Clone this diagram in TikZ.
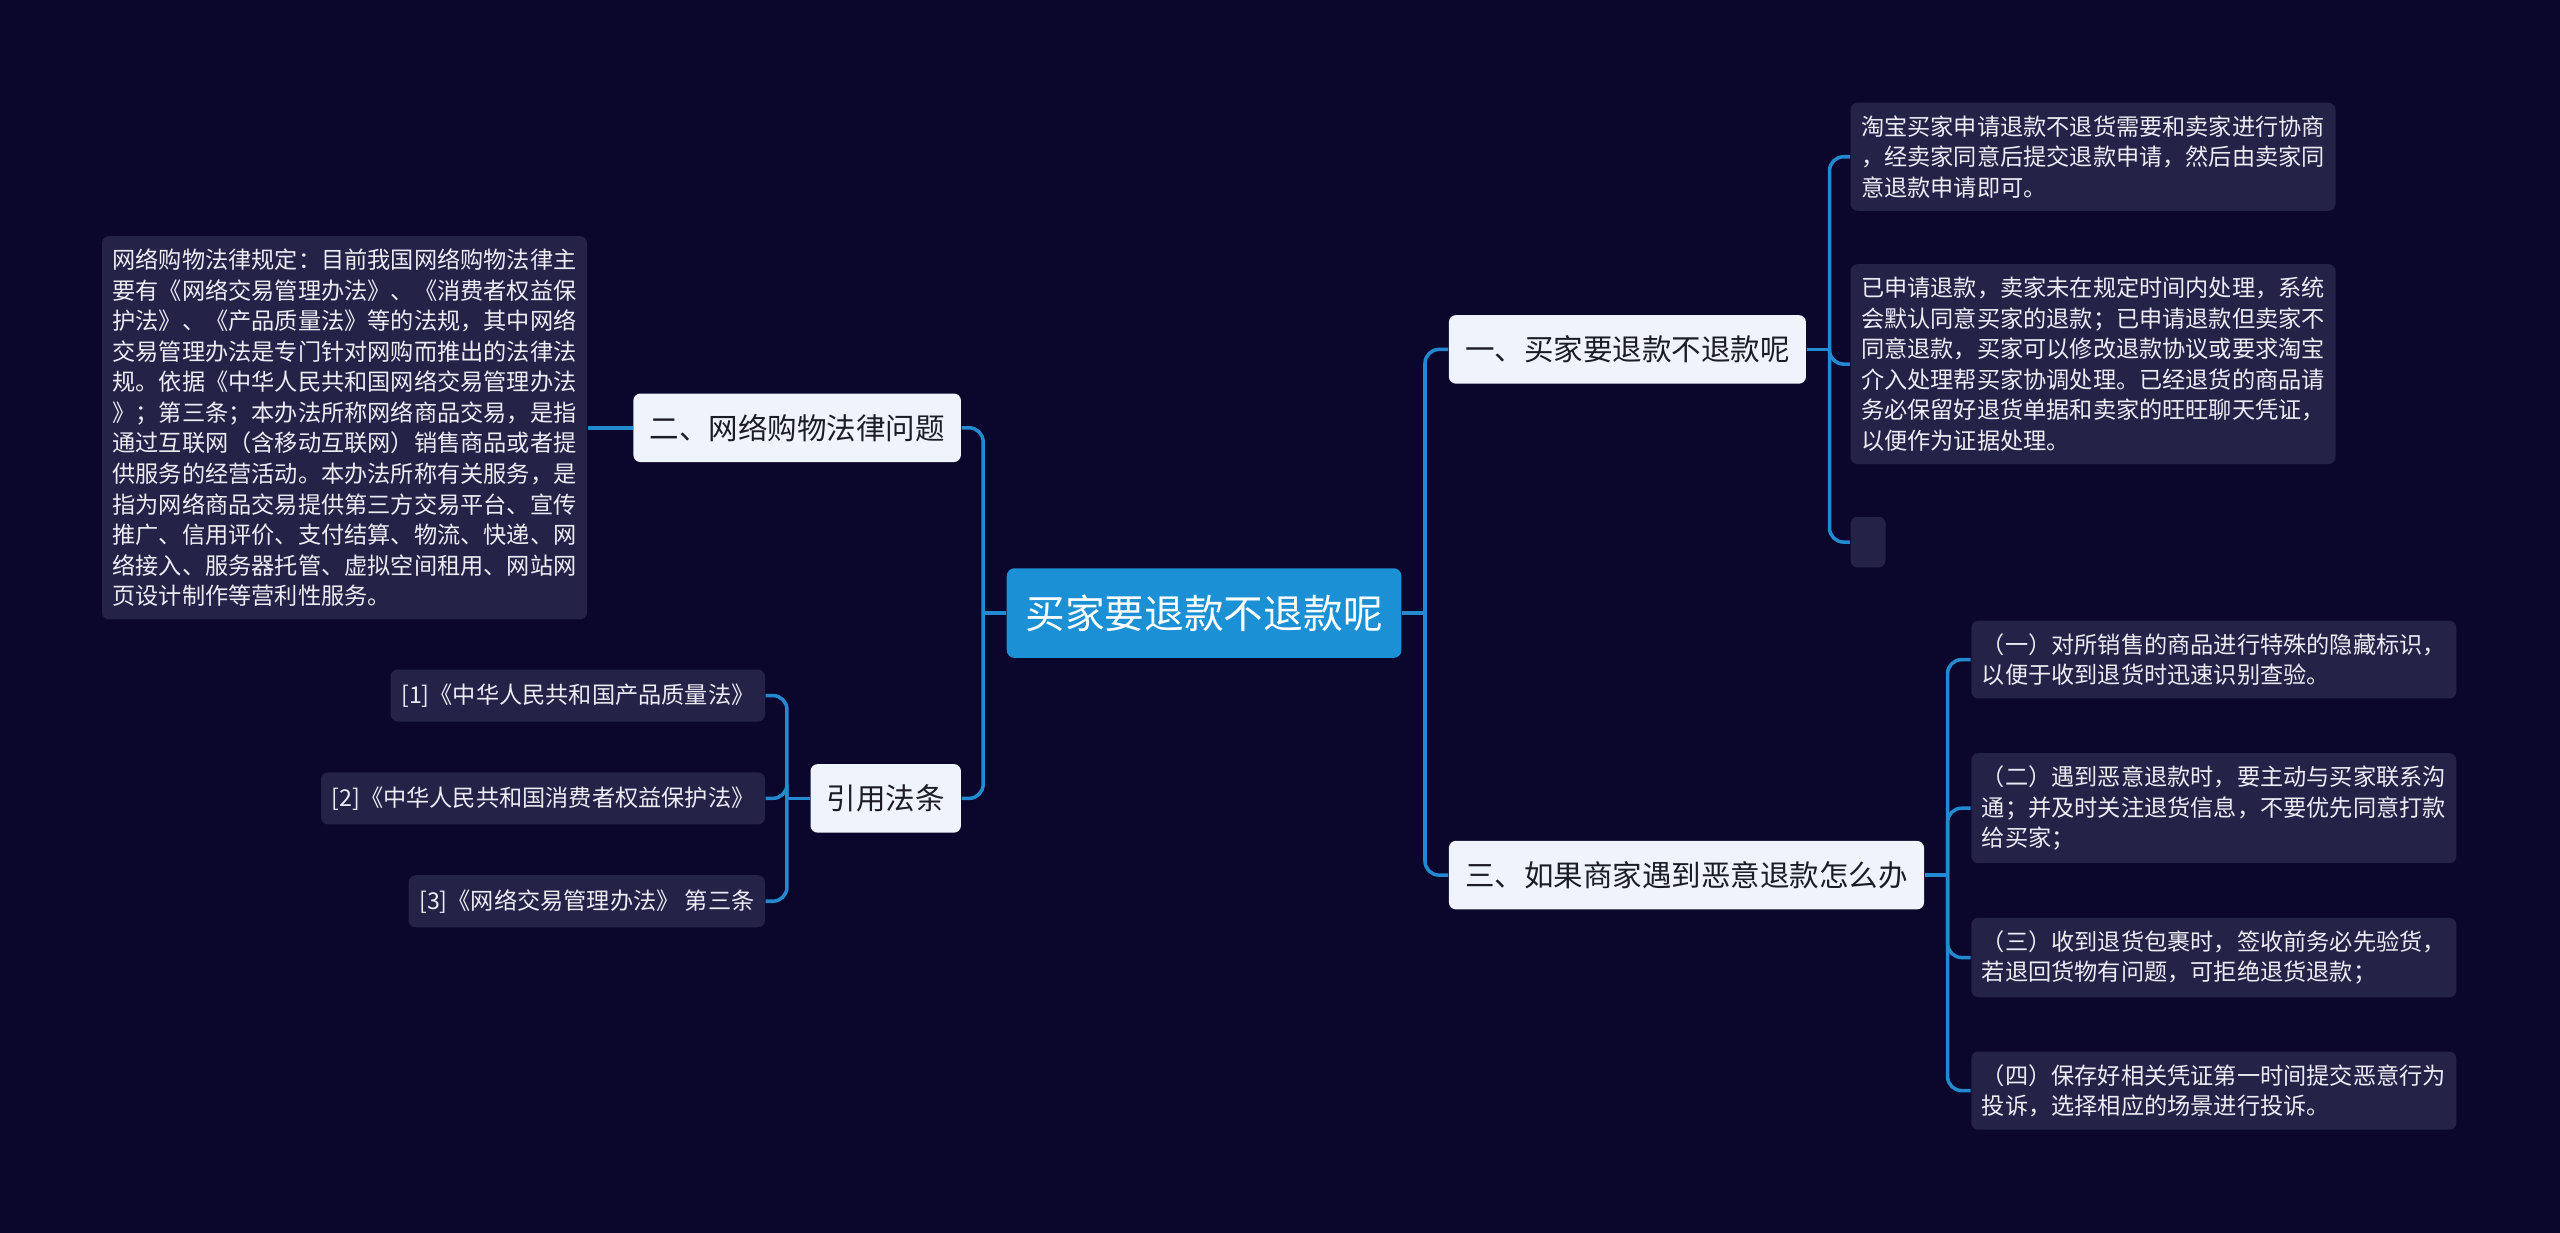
\documentclass[tikz,border=0pt]{standalone}
\usepackage{fontspec}
\usepackage{tikz}
\newfontfamily\cjk{Noto Sans CJK SC}
\definecolor{bgnavy}{RGB}{10,6,44}
\definecolor{boxnavy}{RGB}{37,34,72}
\definecolor{linkblue}{RGB}{36,138,208}
\definecolor{rootblue}{RGB}{27,144,212}
\definecolor{topicwhite}{RGB}{239,244,252}
\definecolor{topictext}{RGB}{28,28,38}
\definecolor{leaftext}{RGB}{236,236,244}
\tikzstyle{rootnode}=[rectangle,rounded corners=2.2pt,fill=rootblue,text=white,font=\cjk\fontsize{11.3}{13}\selectfont,inner xsep=5.3pt,minimum height=25.5pt]
\tikzstyle{topic}=[rectangle,rounded corners=2pt,fill=topicwhite,text=topictext,font=\cjk\fontsize{8.4}{10}\selectfont,inner xsep=4.6pt,minimum height=19.5pt]
\tikzstyle{leaf}=[rectangle,rounded corners=2pt,fill=boxnavy,text=leaftext,font=\cjk\fontsize{6.6}{8.7}\selectfont,align=left,inner xsep=3pt,inner ysep=3.6pt]
\tikzstyle{cite}=[leaf,minimum height=14.8pt]
\tikzstyle{edge}=[draw=linkblue,line width=1pt]
\tikzstyle{elbow}=[edge,rounded corners=4pt]

\begin{document}
\begin{tikzpicture}[x=0.016327cm,y=-0.016327cm]
    % background and page size
    \fill[bgnavy] (0,0) rectangle (1568,755);
    \useasboundingbox (0,0) rectangle (1568,755);

    % root and main topics
    \node[rootnode] (root) at (737.5,375.5) {买家要退款不退款呢};
    \node[topic,anchor=west] (one) at (887,214) {一、买家要退款不退款呢};
    \node[topic,anchor=west] (three) at (887,536) {三、如果商家遇到恶意退款怎么办};
    \node[topic,anchor=east] (two) at (589,262) {二、网络购物法律问题};
    \node[topic,anchor=east] (cite) at (589,489) {引用法条};

    % right leaves
    \foreach \pos/\name/\label in {
    {(1133,96)/oneA/{淘宝买家申请退款不退货需要和卖家进行协商\\，经卖家同意后提交退款申请，然后由卖家同\\意退款申请即可。}},
    {(1133,223)/oneB/{已申请退款，卖家未在规定时间内处理，系统\\会默认同意买家的退款；已申请退款但卖家不\\同意退款，买家可以修改退款协议或要求淘宝\\介入处理帮买家协调处理。已经退货的商品请\\务必保留好退货单据和卖家的旺旺聊天凭证，\\以便作为证据处理。}},
    {(1207,404)/threeA/{（一）对所销售的商品进行特殊的隐藏标识，\\以便于收到退货时迅速识别查验。}},
    {(1207,495)/threeB/{（二）遇到恶意退款时，要主动与买家联系沟\\通；并及时关注退货信息，不要优先同意打款\\给买家；}},
    {(1207,586.5)/threeC/{（三）收到退货包裹时，签收前务必先验货，\\若退回货物有问题，可拒绝退货退款；}},
    {(1207,668)/threeD/{（四）保存好相关凭证第一时间提交恶意行为\\投诉，选择相应的场景进行投诉。}}}
        \node[leaf,anchor=west] (\name) at \pos {\label};
    \node[leaf,anchor=west,minimum width=10pt,minimum height=14.4pt] (oneC) at (1133,332) {};

    % left leaves
    \node[leaf,anchor=east] (law) at (360,262) {网络购物法律规定：目前我国网络购物法律主\\要有《网络交易管理办法》、《消费者权益保\\护法》、《产品质量法》等的法规，其中网络\\交易管理办法是专门针对网购而推出的法律法\\规。依据《中华人民共和国网络交易管理办法\\》；第三条；本办法所称网络商品交易，是指\\通过互联网（含移动互联网）销售商品或者提\\供服务的经营活动。本办法所称有关服务，是\\指为网络商品交易提供第三方交易平台、宣传\\推广、信用评价、支付结算、物流、快递、网\\络接入、服务器托管、虚拟空间租用、网站网\\页设计制作等营利性服务。};
    \foreach \pos/\name/\label in {{(469,426)/citeA/{[1]《中华人民共和国产品质量法》}},
    {(469,489)/citeB/{[2]《中华人民共和国消费者权益保护法》}},
    {(469,552)/citeC/{[3]《网络交易管理办法》 第三条}}}
        \node[cite,anchor=east] (\name) at \pos {\label};

    % connectors to the right
    \foreach \source/\dest in {root/one, root/three, one/oneA, one/oneB, one/oneC, three/threeA, three/threeB, three/threeC, three/threeD}{
        \draw[edge] (\source.east) -- ++(14,0) coordinate (j);
        \draw[elbow] (j) |- (\dest.west);
    }
    % connectors to the left
    \foreach \source/\dest in {root/two, root/cite, cite/citeA, cite/citeB, cite/citeC}{
        \draw[edge] (\source.west) -- ++(-14,0) coordinate (j);
        \draw[elbow] (j) |- (\dest.east);
    }
    \draw[edge] (two.west) -- (law.east);
\end{tikzpicture}
\end{document}
